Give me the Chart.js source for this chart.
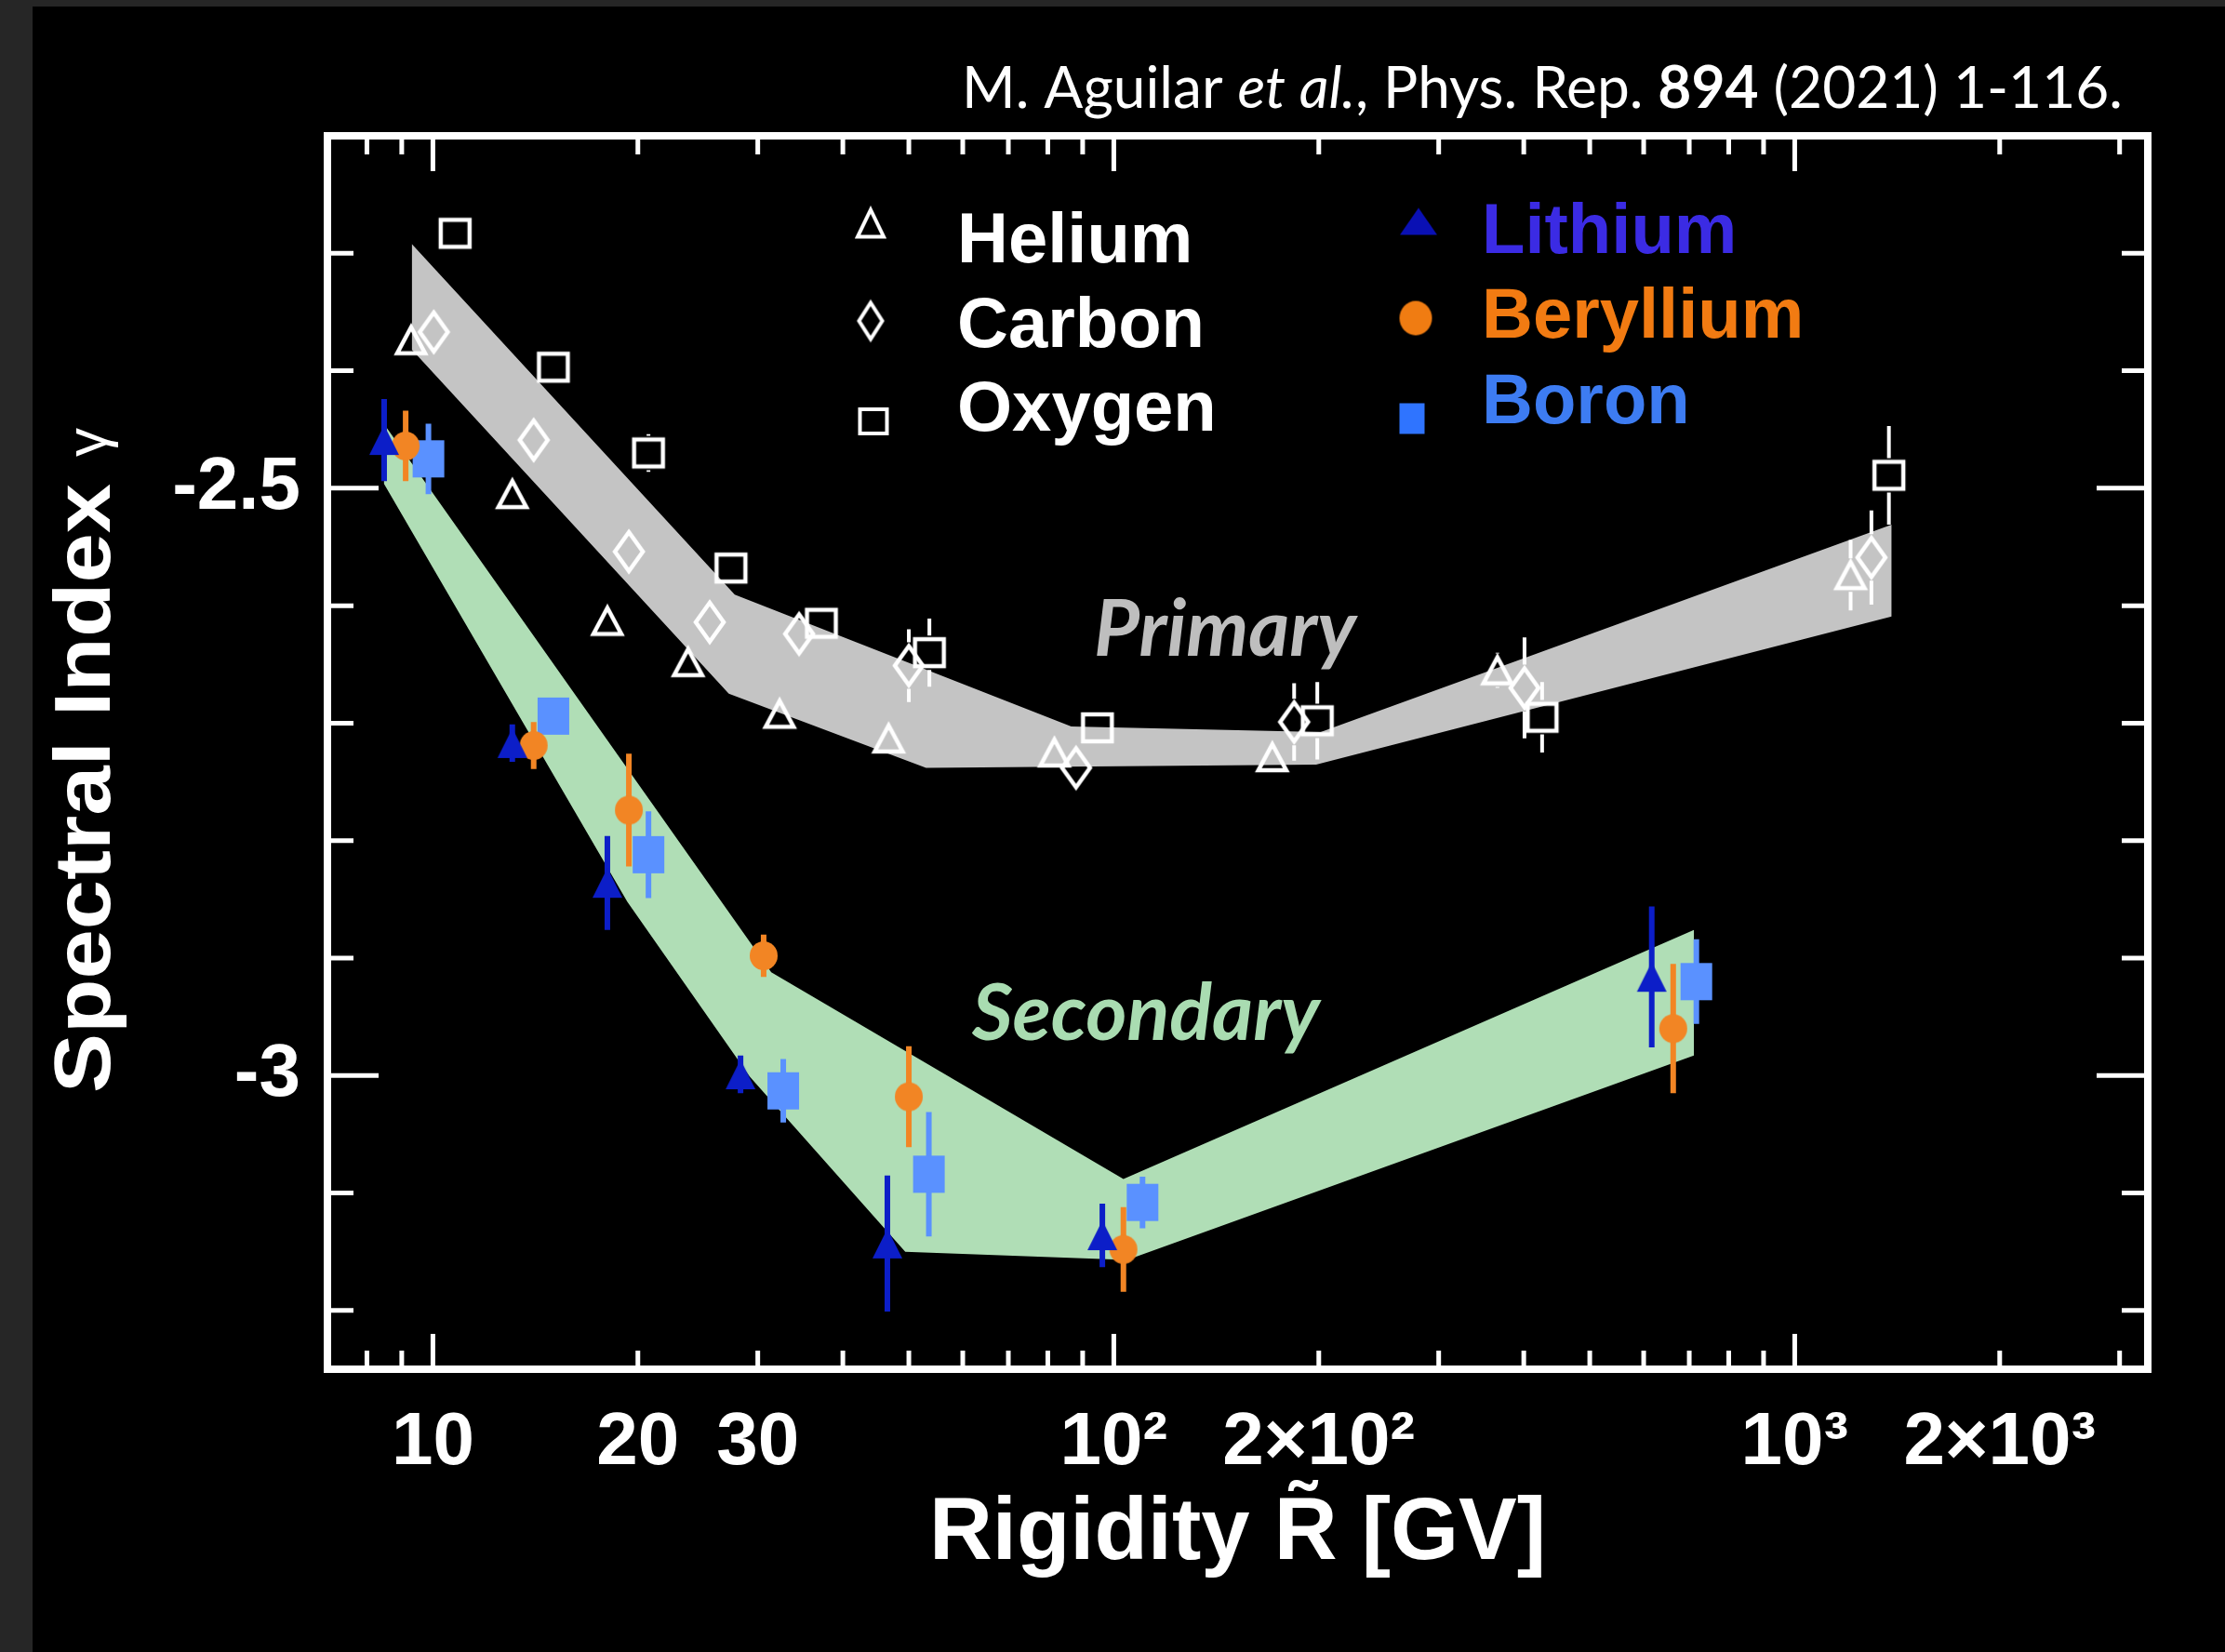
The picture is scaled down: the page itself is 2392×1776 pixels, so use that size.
<!DOCTYPE html>
<html>
<head>
<meta charset="utf-8">
<script src="https://cdn.jsdelivr.net/npm/chart.js@4.4.1/dist/chart.umd.min.js"></script>
<style>
  html, body { margin: 0; padding: 0; background: #000; }
  canvas { display: block; }
</style>
</head>
<body>
<canvas id="spectral" width="2392" height="1776" style="width:2392px;height:1776px"></canvas>
<script>
// rigidity [GV], spectral index gamma, error
var heliumR = [9.29, 13.08, 18.04, 23.7, 32.3, 46.7, 81.8, 170.9, 365.9, 1208];
var heliumG = [-2.374, -2.505, -2.613, -2.648, -2.692, -2.713, -2.725, -2.729, -2.655, -2.574];
var heliumErr = [0.006, 0.006, 0.006, 0.006, 0.006, 0.006, 0.008, 0.012, 0.015, 0.03];

var carbonR = [10.03, 14.06, 19.4, 25.5, 34.5, 50.0, 88.0, 184, 401, 1296];
var carbonG = [-2.367, -2.459, -2.554, -2.614, -2.624, -2.651, -2.738, -2.699, -2.670, -2.559];
var carbonErr = [0.008, 0.008, 0.008, 0.008, 0.01, 0.031, 0.01, 0.033, 0.043, 0.04];

var oxygenR = [10.78, 15.03, 20.73, 27.4, 37.2, 53.6, 94.6, 199, 425.6, 1375];
var oxygenG = [-2.283, -2.397, -2.470, -2.568, -2.615, -2.640, -2.704, -2.698, -2.695, -2.489];
var oxygenErr = [0.008, 0.008, 0.016, 0.01, 0.01, 0.029, 0.012, 0.033, 0.03, 0.042];

var lithiumR = [8.48, 13.08, 18.04, 28.3, 46.5, 96.2, 616.6];
var lithiumG = [-2.459, -2.717, -2.836, -2.999, -3.143, -3.136, -2.916];
var lithiumErr = [0.035, 0.016, 0.04, 0.016, 0.058, 0.027, 0.06];

var berylliumR = [9.12, 14.06, 19.4, 30.6, 50.0, 103.3, 663];
var berylliumG = [-2.464, -2.719, -2.774, -2.898, -3.018, -3.148, -2.960];
var berylliumErr = [0.03, 0.02, 0.048, 0.018, 0.043, 0.036, 0.055];

var boronR = [9.85, 15.03, 20.73, 32.7, 53.5, 110.2, 717];
var boronG = [-2.475, -2.694, -2.812, -3.013, -3.084, -3.108, -2.920];
var boronErr = [0.03, 0.012, 0.037, 0.027, 0.053, 0.022, 0.036];

// fit bands (edges)
var primaryUpperR = [9.31, 27.75, 86.6, 201.3, 1388];
var primaryUpperG = [-2.292, -2.5905, -2.7028, -2.7075, -2.531];
var primaryLowerR = [9.31, 27.2, 53.0, 198.2, 1388];
var primaryLowerG = [-2.382, -2.6749, -2.7381, -2.7352, -2.6091];

var secondaryUpperR = [8.47, 31.4, 103.3, 711];
var secondaryUpperG = [-2.445, -2.912, -3.088, -2.876];
var secondaryLowerR = [8.47, 19.3, 29.2, 49.4, 104.6, 711];
var secondaryLowerG = [-2.496, -2.852, -3.001, -3.150, -3.157, -2.983];

// axes
var xLabelValues = [10, 20, 30, 100, 200, 1000, 2000];
var xLabelText = ['10', '20', '30', '10²', '2×10²', '10³', '2×10³'];
var xMarkValues = [8, 9, 10, 20, 30, 40, 50, 60, 70, 80, 90, 100, 200, 300, 400, 500, 600, 700, 800, 900, 1000, 2000, 3000];
var xMajorValues = [10, 100, 1000];
var yLabelValues = [-3, -2.5];
var yLabelText = ['-3', '-2.5'];
var yMarkValues = [-3.2, -3.1, -3.0, -2.9, -2.8, -2.7, -2.6, -2.5, -2.4, -2.3];
var yMajorValues = [-3, -2.5];

var SANS = "'Liberation Sans', Arial, Helvetica, sans-serif";
var HUMAN = "Lato, 'Open Sans', sans-serif";

function points(r, g) {
  return r.map((x, i) => ({ x: x, y: g[i] }));
}

// error bars; `gap` leaves the inside of an open marker empty
function errPoints(r, g, e, gap) {
  const out = [];
  r.forEach((x, i) => {
    if (e[i] <= gap) return;
    out.push({ x: x, y: g[i] - e[i] }, { x: x, y: g[i] - gap }, { x: x, y: null });
    out.push({ x: x, y: g[i] + gap }, { x: x, y: g[i] + e[i] }, { x: x, y: null });
  });
  return out;
}

// marker images used as pointStyle
function marker(shape, w, h, color, open, lw) {
  const pad = Math.ceil(lw || 0) + 2;
  const cv = document.createElement('canvas');
  cv.width = Math.ceil(w + pad * 2);
  cv.height = Math.ceil(h + pad * 2);
  const c = cv.getContext('2d');
  const l = pad, t = pad, r = pad + w, b = pad + h, cx = pad + w / 2, cy = pad + h / 2;
  c.beginPath();
  if (shape === 'triangle') {
    c.moveTo(cx, t); c.lineTo(r, b); c.lineTo(l, b); c.closePath();
  } else if (shape === 'diamond') {
    c.moveTo(cx, t); c.lineTo(r, cy); c.lineTo(cx, b); c.lineTo(l, cy); c.closePath();
  } else if (shape === 'circle') {
    c.ellipse(cx, cy, w / 2, h / 2, 0, 0, Math.PI * 2);
  } else {
    c.rect(l, t, w, h);
  }
  if (open) {
    c.strokeStyle = color; c.lineWidth = lw; c.stroke();
  } else {
    c.fillStyle = color; c.fill();
  }
  return cv;
}

var liBlue = '#0c1ec8', beOrange = '#f28524', bLight = '#5a91ff';

var series = [
  { label: 'Helium', r: heliumR, g: heliumG, e: heliumErr, color: '#ffffff', bar: 4, open: true,
    style: marker('triangle', 30, 28, '#fff', true, 4.5), key: marker('triangle', 28, 29, '#fff', true, 4),
    text: '#ffffff', lx: 936, ly: 240, tx: 1029, ty: 282 },
  { label: 'Carbon', r: carbonR, g: carbonG, e: carbonErr, color: '#ffffff', bar: 4, open: true,
    style: marker('diamond', 30, 42, '#fff', true, 4.5), key: marker('diamond', 25, 39, '#fff', true, 4),
    text: '#ffffff', lx: 936, ly: 345, tx: 1029, ty: 373 },
  { label: 'Oxygen', r: oxygenR, g: oxygenG, e: oxygenErr, color: '#ffffff', bar: 4, open: true,
    style: marker('square', 31, 29, '#fff', true, 4.5), key: marker('square', 29, 26, '#fff', true, 4),
    text: '#ffffff', lx: 939, ly: 453, tx: 1029, ty: 463 },
  { label: 'Lithium', r: lithiumR, g: lithiumG, e: lithiumErr, color: liBlue, bar: 6, open: false,
    style: marker('triangle', 32, 32, liBlue, false), key: marker('triangle', 40, 29, '#0a10b4', false),
    text: '#3b2be4', lx: 1525, ly: 238, tx: 1593, ty: 272 },
  { label: 'Beryllium', r: berylliumR, g: berylliumG, e: berylliumErr, color: beOrange, bar: 6, open: false,
    style: marker('circle', 30, 31, beOrange, false), key: marker('circle', 35, 37, '#f07c12', false),
    text: '#f27b12', lx: 1522, ly: 342, tx: 1593, ty: 363 },
  { label: 'Boron', r: boronR, g: boronG, e: boronErr, color: bLight, bar: 6, open: false,
    style: marker('square', 34, 40, bLight, false), key: marker('square', 27, 33, '#2f74ff', false),
    text: '#3d7cf2', lx: 1518, ly: 450, tx: 1593, ty: 455 }
];

var datasets = [
  { data: points(primaryUpperR, primaryUpperG), showLine: true, borderWidth: 0, borderColor: 'transparent',
    pointRadius: 0, fill: '+1', backgroundColor: '#c4c4c4', order: 20 },
  { data: points(primaryLowerR, primaryLowerG), showLine: true, borderWidth: 0, borderColor: 'transparent',
    pointRadius: 0, fill: false, order: 20 },
  { data: points(secondaryUpperR, secondaryUpperG), showLine: true, borderWidth: 0, borderColor: 'transparent',
    pointRadius: 0, fill: '+1', backgroundColor: '#b0deb6', order: 20 },
  { data: points(secondaryLowerR, secondaryLowerG), showLine: true, borderWidth: 0, borderColor: 'transparent',
    pointRadius: 0, fill: false, order: 20 }
];
var firstErrSet = datasets.length;

series.forEach(s => {
  datasets.push({ data: errPoints(s.r, s.g, s.e, 0), showLine: true, borderColor: s.color, borderWidth: s.bar,
    pointRadius: 0, fill: false, spanGaps: false, order: 5 });
});
series.forEach(s => {
  datasets.push({ label: s.label, data: points(s.r, s.g), showLine: false, pointStyle: s.style,
    pointRadius: 14, pointHoverRadius: 14, order: 1 });
});

function fitSize(c, text, weight, family, width) {
  c.font = weight + ' 100px ' + family;
  return 100 * width / c.measureText(text).width;
}

var decor = {
  id: 'decor',
  beforeDraw(chart) {
    const c = chart.ctx;
    c.save();
    c.fillStyle = '#262626';
    c.fillRect(0, 0, chart.width, chart.height);
    c.fillStyle = '#000000';
    c.fillRect(35, 7, chart.width - 35, chart.height - 7);
    c.restore();
  },
  afterDraw(chart) {
    const c = chart.ctx, a = chart.chartArea, xs = chart.scales.x, ys = chart.scales.y;
    c.save();
    c.strokeStyle = '#ffffff';
    c.lineCap = 'butt';

    // inward tick marks on all four sides
    c.lineWidth = 5;
    c.beginPath();
    xMarkValues.forEach(v => {
      const px = xs.getPixelForValue(v);
      const len = xMajorValues.includes(v) ? 38 : 20;
      c.moveTo(px, a.bottom); c.lineTo(px, a.bottom - len);
      c.moveTo(px, a.top); c.lineTo(px, a.top + len);
    });
    yMarkValues.forEach(v => {
      const py = ys.getPixelForValue(v);
      const len = yMajorValues.includes(v) ? 55 : 28;
      c.moveTo(a.left, py); c.lineTo(a.left + len, py);
      c.moveTo(a.right, py); c.lineTo(a.right - len, py);
    });
    c.stroke();

    c.lineWidth = 8;
    c.strokeRect(a.left, a.top, a.right - a.left, a.bottom - a.top);

    // legend
    c.textAlign = 'left';
    c.textBaseline = 'alphabetic';
    c.font = 'bold 76px ' + SANS;
    series.forEach(s => {
      c.drawImage(s.key, s.lx - s.key.width / 2, s.ly - s.key.height / 2);
      c.fillStyle = s.text;
      c.fillText(s.label, s.tx, s.ty);
    });

    // band names
    let size = fitSize(c, 'Primary', 'italic bold', HUMAN, 282);
    c.font = 'italic bold ' + size.toFixed(1) + 'px ' + HUMAN;
    c.fillStyle = '#bebebe';
    c.fillText('Primary', 1176, 705);
    size = fitSize(c, 'Secondary', 'italic bold', HUMAN, 374);
    c.font = 'italic bold ' + size.toFixed(1) + 'px ' + HUMAN;
    c.fillStyle = '#a9dcb1';
    c.fillText('Secondary', 1045, 1118);

    // reference line
    const parts = [['M. Aguilar ', 'normal'], ['et al.', 'italic'], [', Phys. Rep. ', 'normal'],
                   ['894', 'bold'], [' (2021) 1-116.', 'normal']];
    let total = 0;
    parts.forEach(p => { c.font = p[1] + ' 100px ' + HUMAN; total += c.measureText(p[0]).width; });
    const cs = 100 * 1248 / total;
    let cx = 1034;
    c.fillStyle = '#ffffff';
    parts.forEach(p => {
      c.font = p[1] + ' ' + cs.toFixed(1) + 'px ' + HUMAN;
      c.fillText(p[0], cx, 116);
      cx += c.measureText(p[0]).width;
    });

    // y title
    c.translate(118, 1175);
    c.rotate(-Math.PI / 2);
    c.font = 'bold 86px ' + SANS;
    const tw = c.measureText('Spectral Index').width;
    c.save();
    c.scale(655 / tw, 1);
    c.fillText('Spectral Index', 0, 0);
    c.restore();
    c.font = 'normal 62px ' + SANS;
    c.fillText('γ', 684, -4);
    c.restore();
  }
};

var chart = new Chart(document.getElementById('spectral'), {
  type: 'line',
  data: { datasets: datasets },
  options: {
    responsive: false,
    devicePixelRatio: 1,
    animation: false,
    layout: { padding: { top: 146, right: 83, left: 0, bottom: 0 } },
    plugins: { legend: { display: false }, tooltip: { enabled: false } },
    scales: {
      x: {
        type: 'logarithmic',
        min: 7,
        max: 3300,
        offset: false,
        grid: { display: false, drawTicks: false },
        border: { display: false },
        afterBuildTicks: (axis) => { axis.ticks = xLabelValues.map(v => ({ value: v })); },
        afterFit: (axis) => { axis.height = 304; },
        ticks: {
          autoSkip: false,
          maxRotation: 0,
          minRotation: 0,
          padding: 32,
          color: '#ffffff',
          font: { family: SANS, size: 80, weight: 'bold' },
          callback: (v, i) => xLabelText[i]
        },
        title: {
          display: true,
          text: 'Rigidity R̃ [GV]',
          color: '#ffffff',
          font: { family: SANS, size: 94, weight: 'bold' },
          padding: { top: 0, bottom: 70 }
        }
      },
      y: {
        type: 'linear',
        min: -3.25,
        max: -2.2,
        grid: { display: false, drawTicks: false },
        border: { display: false },
        afterBuildTicks: (axis) => { axis.ticks = yLabelValues.map(v => ({ value: v })); },
        afterFit: (axis) => { axis.width = 352; },
        ticks: {
          padding: 29,
          color: '#ffffff',
          font: { family: SANS, size: 80, weight: 'bold' },
          callback: (v) => yLabelText[yLabelValues.indexOf(v)]
        }
      }
    }
  },
  plugins: [decor]
});

// open markers: keep error bars outside the marker outline (gap taken from the y scale)
var ys = chart.scales.y;
series.forEach((s, k) => {
  if (!s.open) return;
  const halfPx = s.style.height / 2 - 3;
  const gap = Math.abs(ys.getValueForPixel(ys.top + halfPx) - ys.getValueForPixel(ys.top));
  chart.data.datasets[firstErrSet + k].data = errPoints(s.r, s.g, s.e, gap);
});
chart.update();
</script>
</body>
</html>
